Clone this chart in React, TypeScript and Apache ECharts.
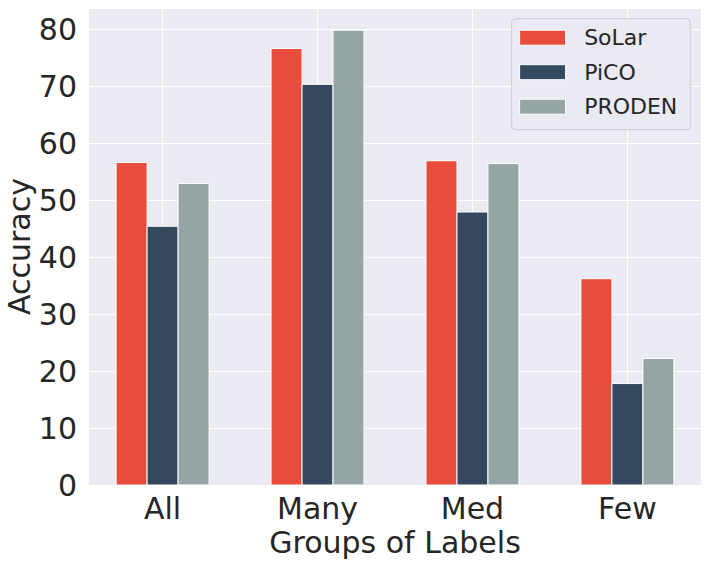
import React, { useEffect, useRef } from "react";
import * as echarts from "echarts";

const categories = ["All", "Many", "Med", "Few"];
const seriesNames = ["SoLar", "PiCO", "PRODEN"];
const solar = [56.6, 76.6, 56.9, 36.2];
const pico = [45.4, 70.3, 47.9, 17.8];
const proden = [52.9, 79.8, 56.4, 22.2];
const colors = ["#e74c3c", "#34495e", "#95a5a6"];
const yTicks = [0, 10, 20, 30, 40, 50, 60, 70, 80];

const FONT = "DejaVu Sans";
const TXT = "#262626";
const BAR_FRACTION = 0.2;

export default function App() {
  const ref = useRef<HTMLDivElement>(null);
  useEffect(() => {
    const chart = echarts.init(ref.current!, null, { renderer: "svg" });
    const values = [solar, pico, proden];
    const nSeries = seriesNames.length;
    chart.setOption({
      animation: false,
      backgroundColor: "#ffffff",
      textStyle: { fontFamily: FONT, color: TXT },
      grid: {
        left: 89,
        top: 8,
        right: 7,
        bottom: 79,
        show: true,
        backgroundColor: "#eaeaf2",
        borderWidth: 0,
        containLabel: false,
        outerBoundsMode: "none",
      },
      legend: {
        data: seriesNames,
        orient: "vertical",
        right: 17.7,
        top: 18.7,
        itemWidth: 46,
        itemHeight: 15,
        itemGap: 8.5,
        padding: [6, 13, 10, 7.5],
        backgroundColor: "#eaeaf2",
        borderColor: "#cccccc",
        borderWidth: 1,
        borderRadius: 4,
        textStyle: {
          fontFamily: FONT,
          fontSize: 22,
          color: TXT,
          lineHeight: 26,
          padding: [0, 0, 0, 13.5],
        },
        icon: "rect",
        itemStyle: { borderColor: "#ffffff", borderWidth: 1 },
      },
      xAxis: {
        type: "value",
        min: -0.475,
        max: 3.475,
        name: "Groups of Labels",
        nameLocation: "middle",
        nameGap: 38,
        nameTextStyle: { fontFamily: FONT, fontSize: 30, color: TXT },
        axisLine: { show: false },
        axisTick: { show: false, customValues: [0, 1, 2, 3] },
        axisLabel: {
          customValues: [0, 1, 2, 3],
          formatter: (v: number) => categories[Math.round(v)] ?? "",
          fontFamily: FONT,
          fontSize: 30,
          color: TXT,
          margin: 8,
        },
        splitLine: { show: true, lineStyle: { color: "#ffffff", width: 1 } },
      },
      yAxis: {
        type: "value",
        min: 0,
        max: 83.7,
        interval: 10,
        name: "Accuracy",
        nameLocation: "middle",
        nameGap: 55,
        nameMoveOverlap: false,
        nameTextStyle: { fontFamily: FONT, fontSize: 30, color: TXT },
        axisLine: { show: false },
        axisTick: { show: false },
        axisLabel: {
          fontFamily: FONT,
          fontSize: 30,
          color: TXT,
          margin: 12,
          showMaxLabel: false,
          formatter: (v: number) => (yTicks.includes(v) ? String(v) : ""),
        },
        splitLine: { show: true, lineStyle: { color: "#ffffff", width: 1 } },
      },
      series: seriesNames.map((name, i) => ({
        name,
        type: "custom",
        itemStyle: { color: colors[i] },
        encode: { x: 0, y: 1 },
        data: values[i].map((v, j) => [j, v]),
        renderItem: (params: any, api: any) => {
          const x = api.value(0);
          const y = api.value(1);
          const top = api.coord([x, y]);
          const base = api.coord([x, 0]);
          const unit = api.size([1, 0])[0];
          const w = unit * BAR_FRACTION;
          const cx = top[0] + (i - (nSeries - 1) / 2) * w;
          return {
            type: "rect",
            shape: { x: cx - w / 2, y: top[1], width: w, height: base[1] - top[1] },
            style: { fill: colors[i], stroke: "#ffffff", lineWidth: 1 },
          };
        },
      })),
    });
    return () => chart.dispose();
  }, []);
  return (
    <div
      ref={ref}
      style={{ position: "fixed", left: 0, top: 0, width: 708, height: 564 }}
    />
  );
}
